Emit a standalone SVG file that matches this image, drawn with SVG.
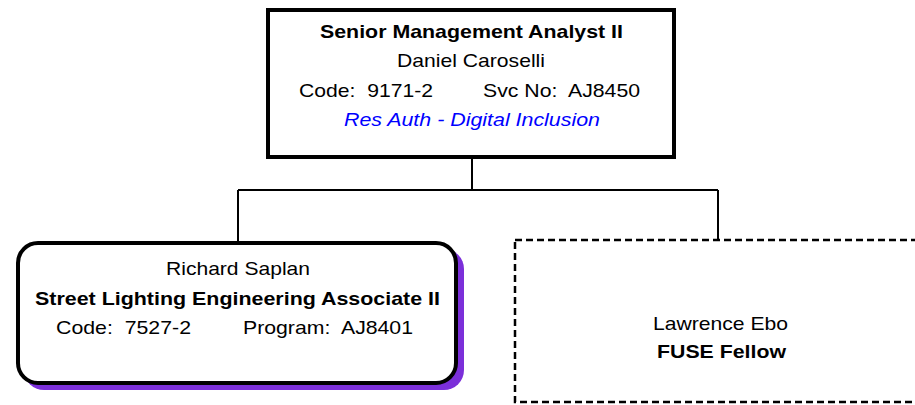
<svg xmlns="http://www.w3.org/2000/svg" width="915" height="405" viewBox="0 0 915 405">
<style>
text{font-family:"Liberation Sans",Arial,sans-serif;font-size:19px;fill:#000}
.b{font-weight:bold}
.blue{fill:#0000ff;font-style:italic}
.conn{stroke:#000;stroke-width:2;fill:none}
</style>
<rect width="915" height="405" fill="#fff"/>
<g id="connectors">
<path class="conn" d="M472 158V190M238 190H718M238 190V242M718 190V240"/>
</g>
<g id="node-top">
<rect x="268" y="10" width="406" height="147" fill="#fff" stroke="#000" stroke-width="4"/>
<text class="b" x="320" y="38" textLength="303" lengthAdjust="spacingAndGlyphs">Senior Management Analyst II</text>
<text x="397" y="67" textLength="148" lengthAdjust="spacingAndGlyphs">Daniel Caroselli</text>
<text x="299" y="97" textLength="134" lengthAdjust="spacingAndGlyphs" xml:space="preserve">Code:  9171-2</text>
<text x="483" y="97" textLength="157" lengthAdjust="spacingAndGlyphs" xml:space="preserve">Svc No:  AJ8450</text>
<text class="blue" x="344" y="126" textLength="256" lengthAdjust="spacingAndGlyphs">Res Auth - Digital Inclusion</text>
</g>
<g id="node-saplan">
<rect x="24" y="249" width="440" height="141" rx="20" fill="#7b2fd9"/>
<rect x="18" y="243" width="438" height="140" rx="20" fill="#fff" stroke="#000" stroke-width="4"/>
<text x="166" y="275" textLength="144" lengthAdjust="spacingAndGlyphs">Richard Saplan</text>
<text class="b" x="35" y="305" textLength="405" lengthAdjust="spacingAndGlyphs">Street Lighting Engineering Associate II</text>
<text x="56" y="334" textLength="135" lengthAdjust="spacingAndGlyphs" xml:space="preserve">Code:  7527-2</text>
<text x="243" y="334" textLength="170" lengthAdjust="spacingAndGlyphs" xml:space="preserve">Program:  AJ8401</text>
</g>
<g id="node-ebo">
<rect x="515" y="240" width="420" height="162" fill="#fff" stroke="#000" stroke-width="2.5" stroke-dasharray="7 4"/>
<text x="653" y="330" textLength="135" lengthAdjust="spacingAndGlyphs">Lawrence Ebo</text>
<text class="b" x="657" y="358" textLength="129" lengthAdjust="spacingAndGlyphs">FUSE Fellow</text>
</g>
</svg>
